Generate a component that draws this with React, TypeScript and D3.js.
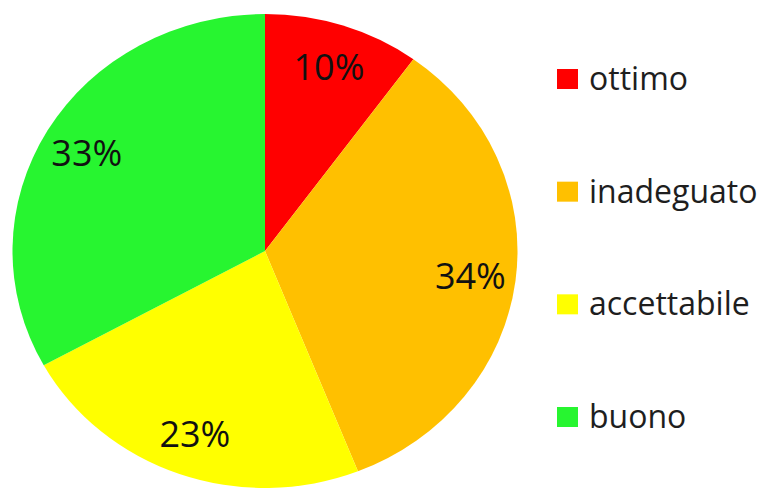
import React from "react";
import * as d3 from "d3";

const categories = ["ottimo", "inadeguato", "accettabile", "buono"];
const values = [10, 34, 23, 33];
const colors = ["#FF0000", "#FFC000", "#FFFF00", "#27F530"];

const W = 761;
const H = 488;
const cx = 265;
const cy = 251;
const rx = 252.5;
const ry = 237;

export default function App() {
  const pie = d3.pie<number>().sort(null).value((d) => d)(values);
  const arc = d3.arc<d3.PieArcDatum<number>>().innerRadius(0).outerRadius(rx);
  const labelArc = d3
    .arc<d3.PieArcDatum<number>>()
    .innerRadius(rx * 0.82)
    .outerRadius(rx * 0.82);
  const total = d3.sum(values);
  const sy = ry / rx;

  const legendY = d3
    .scalePoint<string>()
    .domain(categories)
    .range([79, 417]);

  return (
    <svg
      width={W}
      height={H}
      style={{ position: "fixed", left: 0, top: 0, background: "#fff" }}
      fontFamily="'Open Sans', sans-serif"
    >
      <g transform={`translate(${cx},${cy}) scale(1,${sy})`}>
        {pie.map((p, i) => (
          <path key={i} d={arc(p) || ""} fill={colors[i]} />
        ))}
      </g>
      {pie.map((p, i) => {
        const [x, y] = labelArc.centroid(p);
        return (
          <text
            key={"l" + i}
            x={cx + x}
            y={cy + y * sy}
            textAnchor="middle"
            dominantBaseline="central"
            fontSize={36}
            fill="#111"
          >
            {Math.round((values[i] / total) * 100)}%
          </text>
        );
      })}
      {categories.map((c, i) => {
        const y = legendY(c) as number;
        return (
          <g key={"g" + i}>
            <rect x={557} y={y - 10} width={21} height={20} fill={colors[i]} />
            <text x={589} y={y + 11} fontSize={32} fill="#1e1e1e">
              {c}
            </text>
          </g>
        );
      })}
    </svg>
  );
}
